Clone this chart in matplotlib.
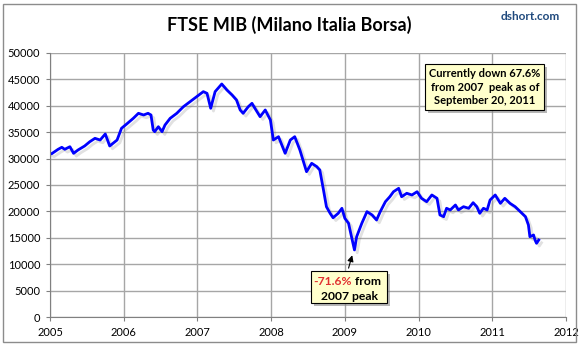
import matplotlib
matplotlib.use('Agg')
import matplotlib.pyplot as plt
import matplotlib.patheffects as pe
from matplotlib.patches import Rectangle

# FTSE MIB index (fractional year, index level)
years = [2005.00, 2005.02, 2005.11, 2005.16, 2005.20, 2005.27, 2005.32, 2005.38,
         2005.47, 2005.54, 2005.61, 2005.68, 2005.75, 2005.81, 2005.91, 2005.97,
         2006.04, 2006.13, 2006.20, 2006.27, 2006.33, 2006.37, 2006.40, 2006.42,
         2006.47, 2006.52, 2006.56, 2006.63, 2006.72, 2006.81, 2006.90, 2006.99,
         2007.08, 2007.13, 2007.18, 2007.24, 2007.33, 2007.40, 2007.47, 2007.53,
         2007.58, 2007.62, 2007.69, 2007.74, 2007.78, 2007.85, 2007.92, 2007.99,
         2008.03, 2008.10, 2008.19, 2008.26, 2008.32, 2008.39, 2008.48, 2008.55,
         2008.62, 2008.66, 2008.71, 2008.75, 2008.80, 2008.84, 2008.91, 2008.96,
         2009.00, 2009.05, 2009.09, 2009.13, 2009.16, 2009.23, 2009.30, 2009.37,
         2009.43, 2009.48, 2009.55, 2009.61, 2009.66, 2009.73, 2009.77, 2009.84,
         2009.91, 2009.98, 2010.04, 2010.11, 2010.18, 2010.25, 2010.29, 2010.34,
         2010.38, 2010.43, 2010.50, 2010.54, 2010.61, 2010.68, 2010.74, 2010.79,
         2010.83, 2010.88, 2010.93, 2010.97, 2011.04, 2011.11, 2011.17, 2011.24,
         2011.31, 2011.38, 2011.45, 2011.49, 2011.51, 2011.56, 2011.58, 2011.60,
         2011.63]
index = [31000, 30900, 31760, 32140, 31760, 32250, 31000, 31630,
         32390, 33200, 33840, 33520, 34660, 32390, 33520, 35740,
         36550, 37630, 38580, 38260, 38580, 38260, 35420, 35100,
         36040, 35100, 36360, 37630, 38580, 39830, 40780, 41730,
         42680, 42360, 39530, 42680, 44130, 42990, 42050, 41100,
         39210, 38580, 39830, 40470, 39530, 37940, 39210, 37310,
         33520, 34150, 31000, 33520, 34150, 31630, 27520, 29110,
         28470, 27840, 24050, 20890, 19640, 18800, 19640, 20590,
         18690, 17750, 15210, 12700, 15210, 17750, 19950, 19320,
         18370, 19950, 21840, 22780, 23730, 24370, 22780, 23430,
         23110, 23730, 22480, 21840, 23110, 22480, 19320, 19000,
         20590, 20270, 21210, 20270, 20890, 20590, 21650, 20890,
         19640, 20590, 20270, 22160, 23110, 21530, 22480, 21530,
         20890, 19950, 19000, 17430, 15210, 15530, 14580, 13960,
         14580]

x_ticks = [2005, 2006, 2007, 2008, 2009, 2010, 2011, 2012]
y_ticks = list(range(0, 50001, 5000))

plt.rcParams['font.family'] = ['Lato', 'DejaVu Sans']

fig = plt.figure(figsize=(5.79, 3.57), dpi=100)
ax = fig.add_axes([50 / 579, 1 - 317 / 357, 516 / 579, 264 / 357])

ax.plot(years, index, color='#0000ff', lw=2.0, solid_joinstyle='round',
        path_effects=[pe.SimpleLineShadow(offset=(2, -2), shadow_color='#777777', alpha=0.22),
                      pe.Normal()])

ax.set_xlim(2005, 2012)
ax.set_ylim(0, 50000)
ax.set_xticks(x_ticks)
ax.set_yticks(y_ticks)
ax.tick_params(labelsize=8, length=3, color='#808080', pad=4)
ax.grid(True, color='#a6a6a6', lw=1)
ax.set_axisbelow(True)
for s in ['top', 'right']:
    ax.spines[s].set_visible(False)
for s in ['left', 'bottom']:
    ax.spines[s].set_color('#808080')

fig.text(0.5, 1 - 25 / 357, 'FTSE MIB (Milano Italia Borsa)', ha='center', va='center',
         fontsize=13, fontweight='bold')
fig.text(560 / 579, 1 - 17 / 357, 'dshort.com', ha='right', va='center',
         fontsize=8.5, fontweight='bold', color='#1f497d')

box_style = dict(boxstyle='square,pad=0.35', fc='#ffffcc', ec='black', lw=0.8)
shadow = [pe.SimplePatchShadow(offset=(2, -2), shadow_rgbFace='#888888', alpha=0.6), pe.Normal()]

# top-right note
t1 = ax.text(2010.90, 43560, 'Currently down 67.6%\nfrom 2007  peak as of\nSeptember 20, 2011',
             ha='center', va='center', fontsize=8, fontweight='bold', linespacing=1.3,
             bbox=box_style)
t1.get_bbox_patch().set_path_effects(shadow)

# trough note: box as a patch, coloured text pieces on top
ax.annotate('', xy=(2009.11, 12200), xytext=(2009.04, 8750),
            arrowprops=dict(arrowstyle='-|>', color='black', lw=0.8, mutation_scale=9))
box = Rectangle((2008.54, 2650), 1.03, 6100, fc='#ffffcc', ec='black', lw=0.8, zorder=3)
box.set_path_effects(shadow)
ax.add_patch(box)
ax.text(2009.10, 6650, '-71.6%', ha='right', va='center', fontsize=8.7, fontweight='bold',
        color='#e03030', zorder=4)
ax.text(2009.10, 6650, ' from', ha='left', va='center', fontsize=8.7, fontweight='bold', zorder=4)
ax.text(2009.06, 3800, '2007 peak', ha='center', va='center', fontsize=8.7, fontweight='bold',
        zorder=4)

fig.patches.append(Rectangle((3 / 579, 1 - 342 / 357), 573 / 579, 338 / 357,
                             transform=fig.transFigure, fill=False, ec='#8c8c8c', lw=1))

fig.savefig('out.png', dpi=100)
